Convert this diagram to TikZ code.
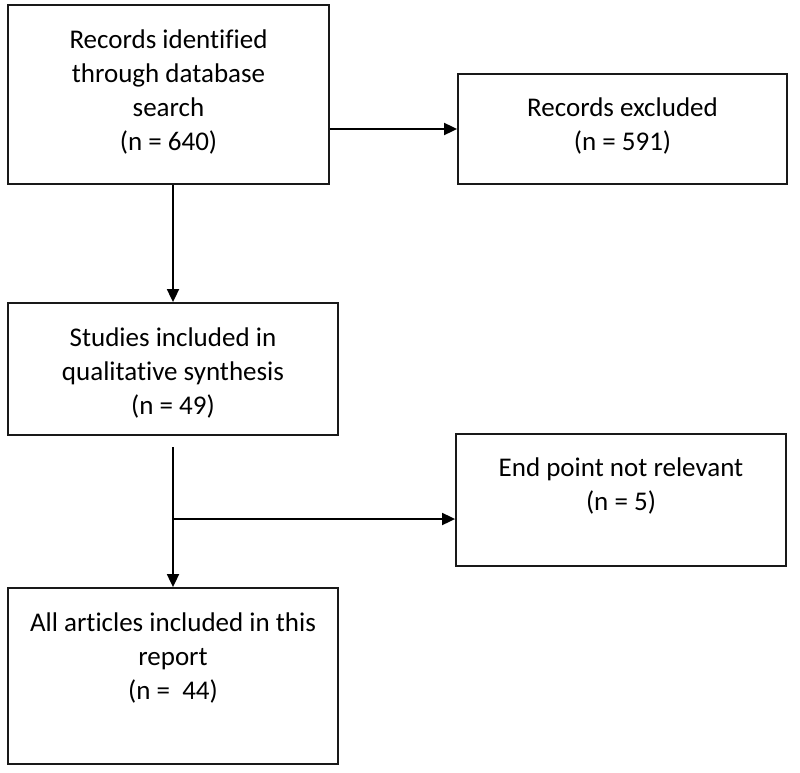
\documentclass[tikz,border=0pt]{standalone}
\usepackage{fontspec}
\setmainfont{Carlito}[Ligatures=NoCommon]
\usetikzlibrary{arrows.meta}
\begin{document}
\begin{tikzpicture}[x=1pt,y=-1pt,
  box/.style={draw=black!90,line width=1.8pt,inner sep=0pt,minimum width=#1},
  txt/.style={align=center,inner sep=0pt,font=\fontsize{27}{34}\selectfont},
  arr/.style={line width=1.8pt,-{Triangle[length=13pt,width=12pt]}},
  ln/.style={line width=1.8pt}]
\useasboundingbox (0,0) rectangle (800,773);
\node[box=321pt,minimum height=179pt] (b1) at (168.5,94.5) {};
\node[box=329pt,minimum height=110pt] (b2) at (622.5,129) {};
\node[box=330pt,minimum height=132pt] (b3) at (173,369) {};
\node[box=330pt,minimum height=132pt] (b4) at (621,500) {};
\node[box=330pt,minimum height=176pt] (b5) at (173,676) {};
\node[txt] (t1) at (168.5,92) {Records identified\\through database\\search\\(n = 640)};
\node[txt] (t2) at (622.5,126) {Records excluded\\(n = 591)};
\node[txt] (t3) at (173,373) {Studies included in\\qualitative synthesis\\(n = 49)};
\node[txt] (t4) at (621,486) {End point not relevant\\(n = 5)};
\node[txt] (t5) at (173,658) {All articles included in this\\report\\(n =\ \ 44)};
\coordinate (s) at (173,447);
\coordinate (br) at (173,519);
\draw[arr] (b1.east |- b2.west) -- (b2.west);
\draw[arr] (b1.south -| b3.north) -- (b3.north);
\draw[arr] (s) -- (b5.north);
\draw[arr] (br) -- (br -| b4.west);
\end{tikzpicture}
\end{document}
